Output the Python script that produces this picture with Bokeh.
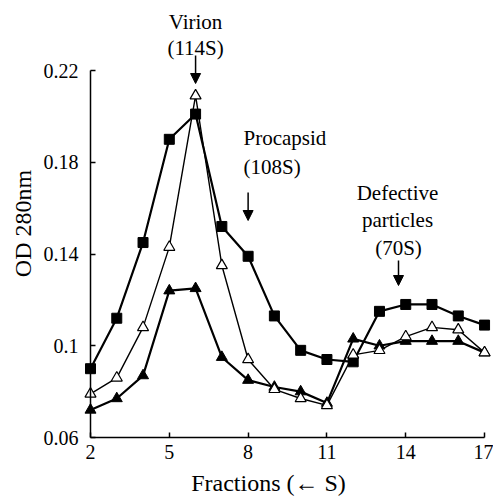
import math
from bokeh.plotting import figure
from bokeh.models import (Range1d, LinearAxis, FixedTicker, Label, Arrow, NormalHead,
                          ColumnDataSource)
from bokeh.embed import file_html
from bokeh.resources import INLINE

# ---- data ----
fractions = list(range(2, 18))
filled_squares = [0.090, 0.112, 0.145, 0.190, 0.201, 0.152, 0.139, 0.113,
                  0.098, 0.094, 0.093, 0.115, 0.118, 0.118, 0.113, 0.109]
open_triangles = [0.079, 0.086, 0.108, 0.143, 0.209, 0.135, 0.094, 0.081,
                  0.077, 0.074, 0.096, 0.098, 0.104, 0.108, 0.107, 0.097]
filled_triangles = [0.072, 0.077, 0.087, 0.124, 0.125, 0.095, 0.085, 0.082,
                    0.080, 0.075, 0.103, 0.100, 0.102, 0.102, 0.102, 0.097]
x_ticks = [2, 5, 8, 11, 14, 17]
y_ticks = [0.06, 0.10, 0.14, 0.18, 0.22]
y_tick_labels = ["0.06", "0.1", "0.14", "0.18", "0.22"]

FONT = "serif"

# ---- geometry (frame fills the whole canvas; axes drawn at fixed locations) ----
W, H = 493, 498
ppx = 26.27          # px per fraction
ppy = 2293.75        # px per OD unit
X2_PX = 90           # pixel of fraction 2
Y006_PX = 437        # pixel of OD 0.06
Y022_PX = 70
x_start = 2 - X2_PX / ppx
x_end = x_start + W / ppx
y_end = 0.22 + Y022_PX / ppy
y_start = 0.06 - (H - Y006_PX) / ppy

p = figure(width=W, height=H, output_backend="svg", toolbar_location=None,
           x_range=Range1d(x_start, x_end), y_range=Range1d(y_start, y_end),
           x_axis_location=None, y_axis_location=None,
           min_border_left=0, min_border_right=0, min_border_top=0,
           min_border_bottom=0)
p.grid.visible = False
p.outline_line_color = None
p.background_fill_color = "white"
p.border_fill_color = "white"

def style_axis(ax):
    ax.axis_line_color = "black"
    ax.axis_line_width = 1.5
    ax.major_tick_line_color = "black"
    ax.major_tick_line_width = 1.5
    ax.major_tick_in = 5
    ax.major_tick_out = 0
    ax.minor_tick_line_color = None
    ax.major_label_text_font = FONT
    ax.major_label_text_font_size = "20px"
    ax.major_label_text_color = "black"

xa = LinearAxis(fixed_location=0.06, bounds=(2, 17), ticker=FixedTicker(ticks=x_ticks))
style_axis(xa)
xa.major_label_standoff = 7
p.add_layout(xa, "below")

ya = LinearAxis(fixed_location=2, bounds=(0.06, 0.22), ticker=FixedTicker(ticks=y_ticks))
style_axis(ya)
ya.major_label_standoff = 12
ya.major_label_overrides = {t: l for t, l in zip(y_ticks, y_tick_labels)}
p.add_layout(ya, "left")

src = ColumnDataSource(dict(x=fractions, sq=filled_squares, ot=open_triangles, ft=filled_triangles))

p.line("x", "sq", source=src, line_color="black", line_width=2.2)
p.line("x", "ft", source=src, line_color="black", line_width=2.2)
p.line("x", "ot", source=src, line_color="black", line_width=1.4)
p.scatter("x", "sq", source=src, marker="square", size=10, fill_color="black", line_color="black")
p.scatter("x", "ft", source=src, marker="triangle", size=11, fill_color="black", line_color="black")
p.scatter("x", "ot", source=src, marker="triangle", size=11, fill_color="white", line_color="black", line_width=1.2)

def dx(px):
    return 2 + (px - X2_PX) / ppx

def dy(py):
    return 0.06 + (Y006_PX - py) / ppy

def txt(x, y, s, align="center", angle=0.0, size="21px"):
    p.add_layout(Label(x=x, y=y, text=s, text_font=FONT, text_font_size=size,
                       text_align=align, text_baseline="middle", angle=angle,
                       text_color="black"))

# annotations
txt(6, dy(21), "Virion")
txt(6, dy(47), "(114S)")
txt(dx(243), dy(137), "Procapsid", align="left")
txt(dx(243), dy(166), "(108S)", align="left")
txt(dx(397), dy(192), "Defective")
txt(dx(397), dy(219), "particles")
txt(dx(398), dy(247), "(70S)")

for ax_, y1, y2 in [(6, 55, 83), (8, 192, 220), (dx(398), 260, 285)]:
    p.add_layout(Arrow(x_start=ax_, y_start=dy(y1), x_end=ax_, y_end=dy(y2),
                       line_color="black", line_width=1.5,
                       end=NormalHead(size=10, fill_color="black", line_color="black")))

# axis titles
txt(dx(22), dy(223), "OD 280nm", angle=math.pi / 2, size="24px")
txt(dx(268), dy(482), "Fractions (\u2190 S)", size="24px")

open("out.html", "w").write(file_html(p, INLINE))
